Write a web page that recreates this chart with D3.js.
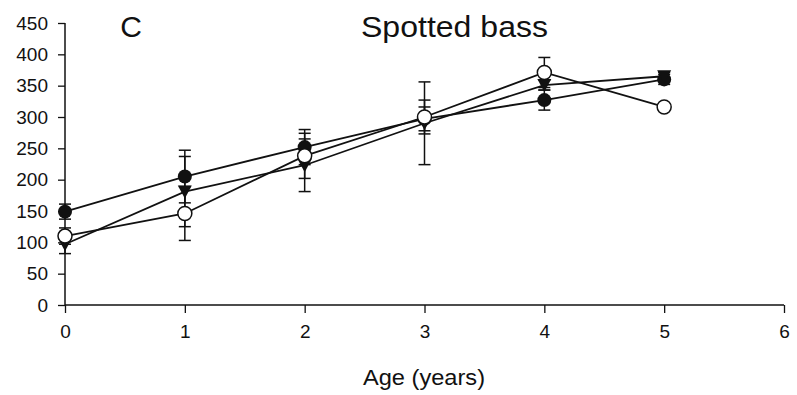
<!DOCTYPE html>
<html><head><meta charset="utf-8">
<script src="https://cdn.jsdelivr.net/npm/d3@7"></script>
<style>body{margin:0;background:#fff}svg{display:block}text{font-family:"Liberation Sans",Arial,sans-serif;fill:#111}</style>
</head><body><svg id="c" width="797" height="395"></svg>
<script>
const ages = [0,1,2,3,4,5];
const filledVals = [149,205,252,297,327,360];
const filledErr  = [12,42,28,19,16,8];
const openVals   = [110,146,238,300,371,316];
const openErr    = [13,43,36,27,24,0];
const triVals    = [97,181,223,290,351,365];
const triErr     = [15,56,42,66,8,6];
const xTicks = [0,1,2,3,4,5,6];
const yTicks = [0,50,100,150,200,250,300,350,400,450];
const panelLabel = "C";
const titleText = "Spotted bass";
const xTitle = "Age (years)";

const svg = d3.select("#c");
const x = d3.scaleLinear().domain([0,6]).range([65,784]);
const y = d3.scaleLinear().domain([0,450]).range([305,23]);

// axes
const yAxis = d3.axisLeft(y).tickValues(yTicks).tickFormat(d3.format("d")).tickSize(7).tickPadding(10);
const gy = svg.append("g").attr("transform","translate(65,0)").call(yAxis);
const xAxis = d3.axisBottom(x).tickValues(xTicks).tickFormat(d3.format("d")).tickSize(8).tickPadding(12);
const gx = svg.append("g").attr("transform","translate(0,305)").call(xAxis);
[gx,gy].forEach(g=>{
  g.select(".domain").attr("stroke","#111").attr("stroke-width",1.5);
  g.selectAll(".tick line").attr("stroke","#111").attr("stroke-width",1.3);
  g.selectAll(".tick text").style("font-size","19px").attr("fill","#111");
});
gx.select(".domain").attr("d","M65,0H784");
gy.select(".domain").attr("d","M0,23V305");

const series = [
  {vals:filledVals, err:filledErr, type:"filled"},
  {vals:triVals, err:triErr, type:"tri"},
  {vals:openVals, err:openErr, type:"open"}
];
const line = d3.line().x((d,i)=>x(ages[i])).y(d=>y(d));

// error bars
series.forEach(s=>{
  const g = svg.append("g");
  s.vals.forEach((v,i)=>{
    const e = s.err[i]; if(!e) return;
    const cx = x(ages[i]);
    g.append("line").attr("x1",cx).attr("x2",cx).attr("y1",y(v-e)).attr("y2",y(v+e)).attr("stroke","#111").attr("stroke-width",1.5);
    [v-e,v+e].forEach(t=>g.append("line").attr("x1",cx-6).attr("x2",cx+6).attr("y1",y(t)).attr("y2",y(t)).attr("stroke","#111").attr("stroke-width",1.5));
  });
});
// lines
series.forEach(s=>{
  svg.append("path").datum(s.vals).attr("d",line).attr("fill","none").attr("stroke","#111").attr("stroke-width",1.8);
});
// markers
series.forEach(s=>{
  const g = svg.append("g");
  s.vals.forEach((v,i)=>{
    const cx = x(ages[i]), cy = y(v);
    if(s.type==="filled"){
      g.append("circle").attr("cx",cx).attr("cy",cy).attr("r",7).attr("fill","#111");
    } else if(s.type==="open"){
      g.append("circle").attr("cx",cx).attr("cy",cy).attr("r",7).attr("fill","#fff").attr("stroke","#111").attr("stroke-width",1.5);
    } else {
      g.append("path").attr("d",`M${cx-7},${cy-6}L${cx+7},${cy-6}L${cx},${cy+7}Z`).attr("fill","#111");
    }
  });
});

svg.append("text").attr("x",131).attr("y",37).attr("text-anchor","middle").style("font-size","30px").text(panelLabel);
svg.append("text").attr("x",361).attr("y",37).attr("textLength",187).attr("lengthAdjust","spacingAndGlyphs").style("font-size","30px").text(titleText);
svg.append("text").attr("x",363).attr("y",385).attr("textLength",122).attr("lengthAdjust","spacingAndGlyphs").style("font-size","22px").text(xTitle);
</script></body></html>
